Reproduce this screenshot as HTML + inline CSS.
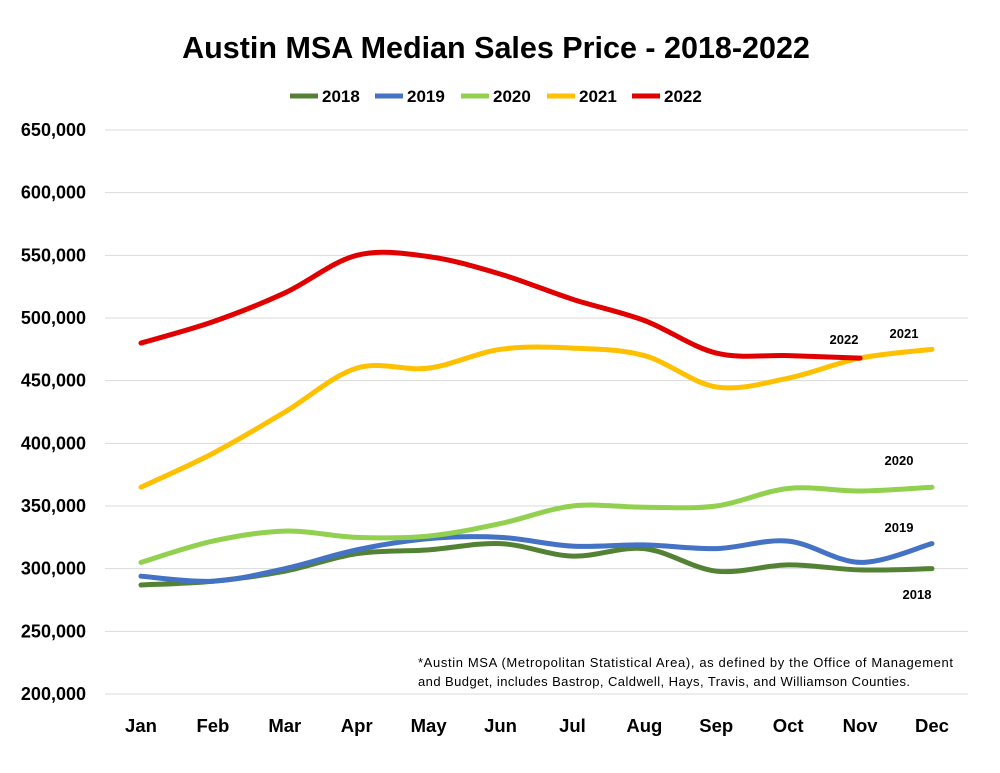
<!DOCTYPE html>
<html><head><meta charset="utf-8"><style>
body{margin:0;background:#fff;font-family:"Liberation Sans",sans-serif}
</style></head><body>
<svg id="c" width="1000" height="768" xmlns="http://www.w3.org/2000/svg">
<text x="496" y="58" text-anchor="middle" font-size="30.5" font-weight="bold" fill="#000">Austin MSA Median Sales Price - 2018-2022</text>
<g id="legend"></g>
<g id="grid"></g>
<g id="yax"></g>
<g id="xax"></g>
<g id="lines"></g>
<g id="labels"></g>
<text x="418" y="667" font-size="13" textLength="535" fill="#000">*Austin MSA (Metropolitan Statistical Area), as defined by the Office of Management</text>
<text x="418" y="686" font-size="13" textLength="492" fill="#000">and Budget, includes Bastrop, Caldwell, Hays, Travis, and Williamson Counties.</text>
</svg>
<script>
const months=["Jan","Feb","Mar","Apr","May","Jun","Jul","Aug","Sep","Oct","Nov","Dec"];
const yTicks=[200000,250000,300000,350000,400000,450000,500000,550000,600000,650000];
const seriesNames=["2018","2019","2020","2021","2022"];
const seriesColors=["#548235","#4472c4","#92d050","#ffc000","#e00000"];
const s2018=[287000,290000,298000,312000,315000,320000,310000,316000,298000,303000,299000,300000];
const s2019=[294000,290000,300000,315000,324000,325000,318000,319000,316000,322000,305000,320000];
const s2020=[305000,322000,330000,325000,326000,336000,350000,349000,350000,364000,362000,365000];
const s2021=[365000,392000,425000,460000,460000,475000,476000,470000,445000,452000,468000,475000];
const s2022=[480000,497000,520000,550000,549000,535000,515000,498000,472000,470000,468000];
const seriesData=[s2018,s2019,s2020,s2021,s2022];
const NS="http://www.w3.org/2000/svg";
const X=i=>141+i*(932-141)/11;
const Y=v=>694-(v-200000)/450000*564;
function el(t,a,p){const e=document.createElementNS(NS,t);for(const k in a)e.setAttribute(k,a[k]);p.appendChild(e);return e;}
const grid=document.getElementById('grid'),yax=document.getElementById('yax'),xax=document.getElementById('xax');
yTicks.forEach(v=>{
 const l=el('line',{x1:105,x2:968,y1:Y(v),y2:Y(v),stroke:'#d9d9d9','stroke-width':1},grid);
 
 
 const t=el('text',{x:86,y:Y(v)+6,'text-anchor':'end','font-size':18,'font-weight':'bold'},yax);
 t.textContent=v.toLocaleString('en-US');
 
 
});
months.forEach((m,i)=>{
 const t=el('text',{x:X(i),y:732,'text-anchor':'middle','font-size':18.5,'font-weight':'bold'},xax);
 t.textContent=m;
 
 
});
function path(d){
 const p=d.map((v,i)=>[X(i),Y(v)]);
 let s='M'+p[0][0]+','+p[0][1];
 for(let i=0;i<p.length-1;i++){
  const p0=p[i-1]||p[i],p1=p[i],p2=p[i+1],p3=p[i+2]||p2;
  const c1=[p1[0]+(p2[0]-p0[0])/6,p1[1]+(p2[1]-p0[1])/6];
  const c2=[p2[0]-(p3[0]-p1[0])/6,p2[1]-(p3[1]-p1[1])/6];
  s+=`C${c1[0]},${c1[1]} ${c2[0]},${c2[1]} ${p2[0]},${p2[1]}`;
 }
 return s;
}
const lines=document.getElementById('lines');
seriesData.forEach((d,k)=>{
 const e=el('path',{d:path(d),fill:'none',stroke:seriesColors[k],'stroke-width':5,'stroke-linecap':'round'},lines);
 
 
});
const lg=document.getElementById('legend');
seriesNames.forEach((n,k)=>{
 const x0=[290,375,461,547,632][k];
 const l=el('line',{x1:x0,x2:x0+28,y1:96,y2:96,stroke:seriesColors[k],'stroke-width':5},lg);
 
 
 const t=el('text',{x:x0+32,y:102,'font-size':17,'font-weight':'bold'},lg);
 t.textContent=n;
 
 
});
const lab=document.getElementById('labels');
[["2022",844,344],["2021",904,338],["2020",899,465],["2019",899,532],["2018",917,599]].forEach(a=>{
 const t=el('text',{x:a[1],y:a[2],'text-anchor':'middle','font-size':13,'font-weight':'bold'},lab);
 t.textContent=a[0];
 
 
});
</script>
</body></html>
